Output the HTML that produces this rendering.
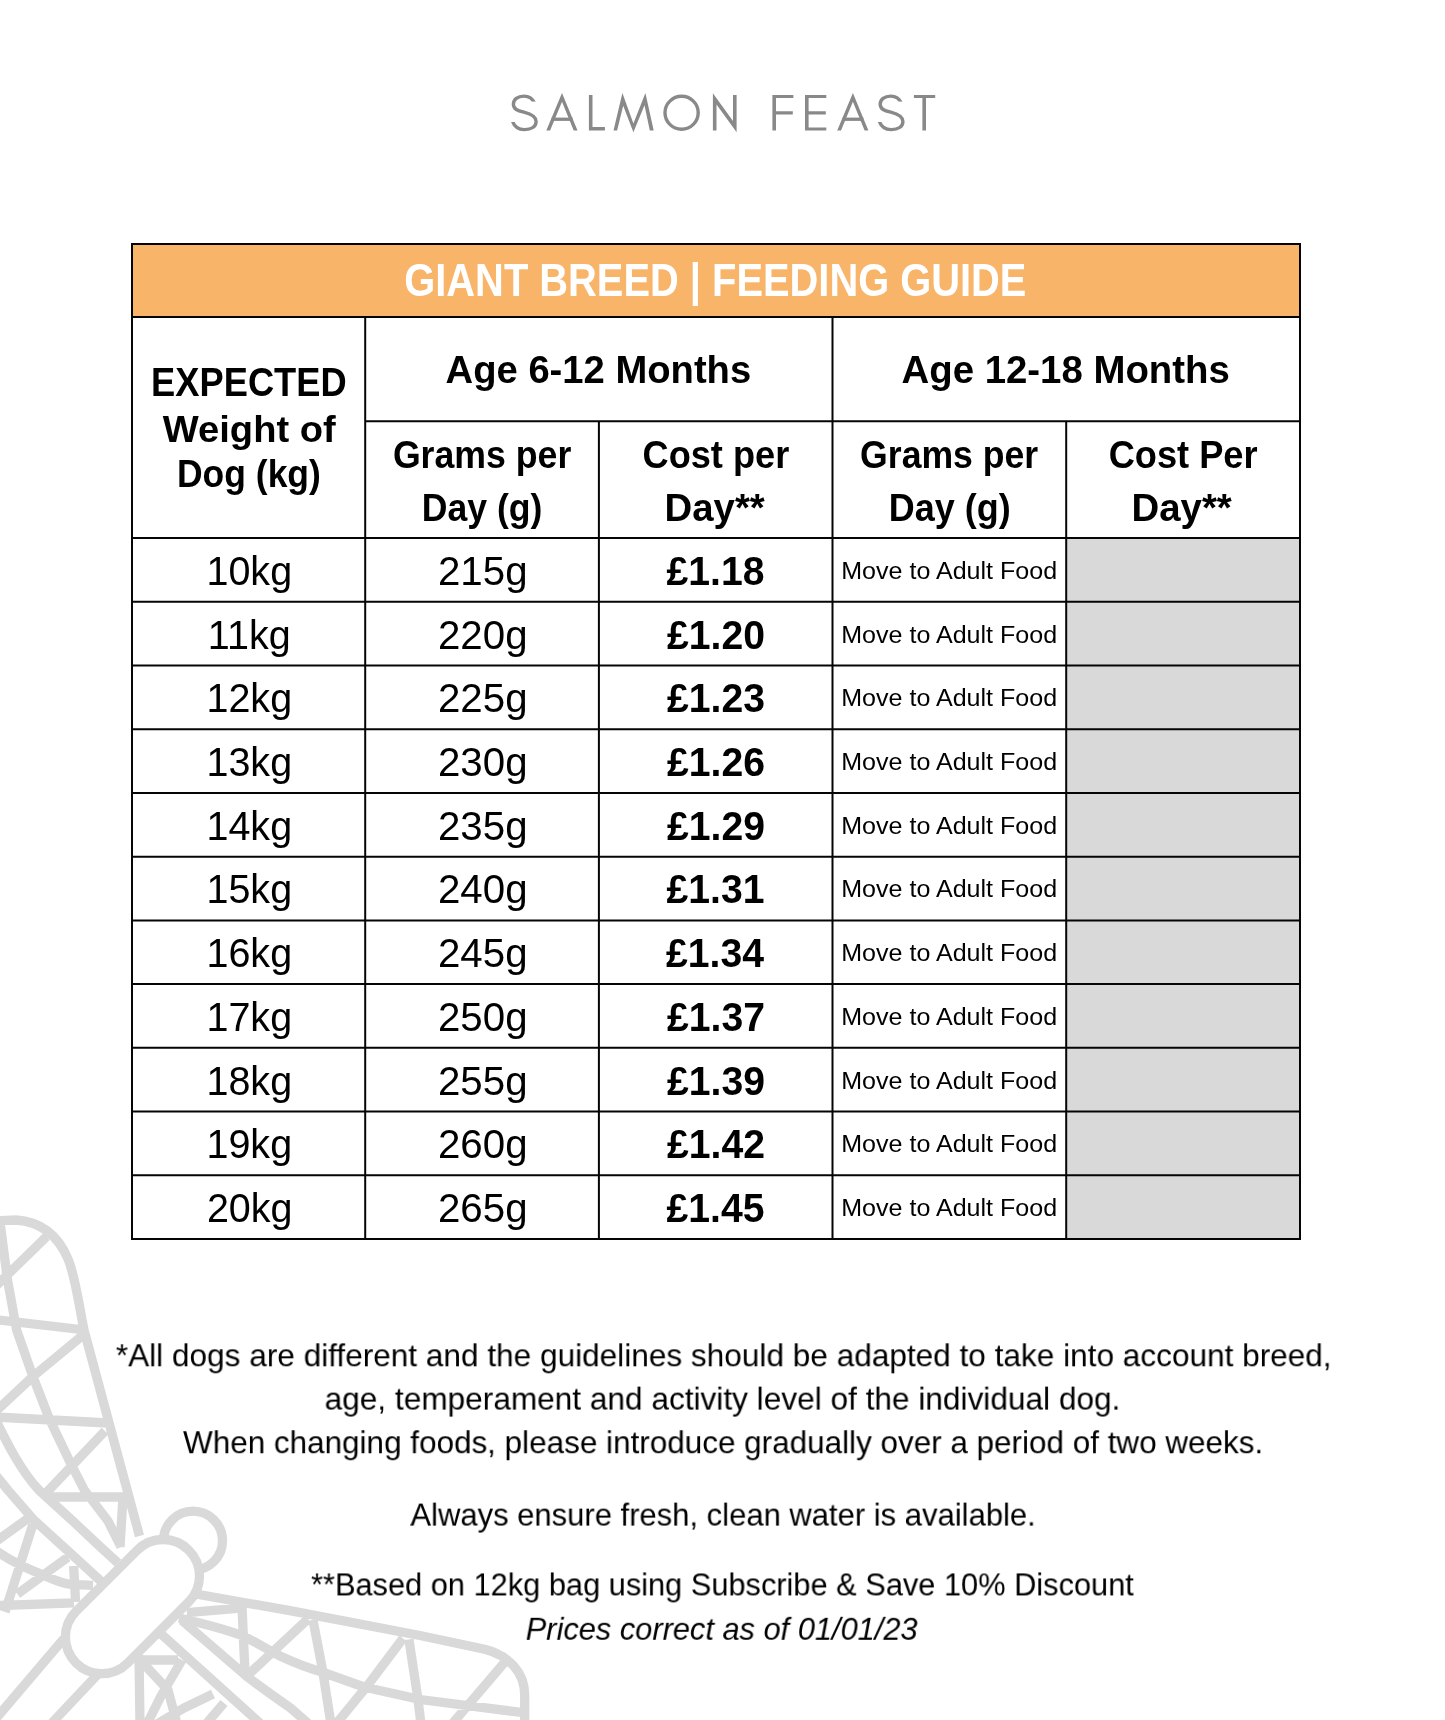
<!DOCTYPE html>
<html><head><meta charset="utf-8"><title>Salmon Feast - Giant Breed Feeding Guide</title>
<style>
html,body{margin:0;padding:0;background:#fff;}
body{width:1445px;height:1720px;overflow:hidden;position:relative;font-family:"Liberation Sans", sans-serif;}
svg{position:absolute;left:0;top:0;display:block;will-change:transform;}
svg text{font-family:"Liberation Sans", sans-serif;}
</style></head><body>
<svg width="1445" height="1720" viewBox="0 0 1445 1720">
<g id="dragonfly"><path d="M139.5,1536 L84,1330 C79,1305 75,1275 68,1259 C60,1240 45,1222 16,1220 L-30,1222 M-8,1412 C8,1446 22,1472 38.8,1490 L71.7,1520 L103.7,1550 L118,1563 M0,1222 L7.5,1280 L16.6,1330 L32.9,1376.5 L49.4,1419 L70,1462 L84.3,1490 L108,1521 L121,1547 M46.5,1236.6 L-5,1287 M-5,1319.6 L85,1330 M83.3,1334.8 L32.9,1376.5 L-5,1412 M-5,1417 L108,1423 M105,1431 L47,1492 M44,1497 L130,1497 M123,1497 L120,1547 M-10,1468 L7.8,1490 L33.9,1520 L66.9,1550 L104,1584 M-5,1542 L30,1517 M-5,1550 C10,1561 30,1570 44.6,1575.6 C55,1580 62,1584 71.7,1584.3 L93,1585.3 M32.9,1524.3 L5,1612 M67.8,1557.2 L17.4,1594 M-5,1605.7 L74,1602.8 M73.6,1566 L75.6,1602 M64,1638.5 L-4,1718.5 M99,1673 L50,1725 M139,1655 L140,1725 M139,1660 L178,1660 M142,1662 L168,1690 L177,1724 M182,1660 L161,1696 L147,1724 M213,1694 L184,1708 L157,1724 M224,1703 L206,1724 M150,1624 L262,1725 M182,1620.4 L246.9,1676.6 C262,1688 276,1698 290,1707.6 L310,1725 M196,1594 L290,1610.7 L420,1635.5 L484.6,1649.2 C508,1655 524.7,1672 524.7,1695 L524.7,1725 M186.8,1612.6 L243,1607.8 M179,1618 C205,1624 225,1629 243,1636 C256,1642 268,1650 280,1656 C295,1663 308,1668 322,1672 L364,1687 L420,1699.5 L526,1713 M242,1606.8 L245,1672.7 M308,1619 L249,1674 M313,1620 L322.6,1670.4 L331,1724 M403,1638.4 L367.2,1686 L336,1724 M408.9,1639.4 L417.6,1696.6 L421,1724 M504,1663 L452,1724" stroke="#D9D9D9" stroke-width="9.3" fill="none" stroke-linejoin="round" stroke-linecap="butt"/><circle cx="193" cy="1540.7" r="29.5" stroke="#D9D9D9" stroke-width="9.3" fill="#fff"/><rect x="52.74" y="1570.05" width="159.42" height="73.00" rx="36.5" ry="36.5" transform="rotate(-45 132.45 1606.55)" stroke="#D9D9D9" stroke-width="9.3" fill="#fff"/></g>
<g id="title"><path d="M534.60 103.20 C532.60 98.60 528.80 96.10 524.00 96.10 C517.50 96.10 513.40 99.60 513.40 104.20 C513.40 109.20 517.60 110.60 523.90 112.20 C531.60 114.20 536.10 116.60 536.10 121.50 C536.10 126.60 531.50 129.60 524.50 129.60 C519.50 129.60 514.60 127.60 512.40 121.00" stroke="#898989" stroke-width="3.4" fill="none"/><rect x="528.60" y="101.6" width="12" height="6" fill="#fff"/><rect x="506.00" y="115.5" width="12.6" height="6.5" fill="#fff"/><polygon points="546.30,130.60 562.00,93.00 577.50,130.60 573.70,130.60 562.00,101.80 550.10,130.60" fill="#898989"/><rect x="551.50" y="117.60" width="21.00" height="3.30" fill="#898989"/><polygon points="588.90,94.90 592.50,94.90 592.50,127.00 604.90,127.00 604.90,130.60 588.90,130.60" fill="#898989"/><polygon points="613.50,130.60 622.40,93.00 633.40,123.40 645.40,93.00 653.70,130.60 649.80,130.60 644.50,105.20 633.40,132.30 623.20,105.70 617.10,130.60" fill="#898989"/><ellipse cx="681.6" cy="112.75" rx="16.6" ry="16.45" stroke="#898989" stroke-width="3.4" fill="none"/><polygon points="712.90,130.60 712.90,93.30 733.00,121.00 733.00,94.90 736.60,94.90 736.60,132.30 716.50,104.60 716.50,130.60" fill="#898989"/><polygon points="772.40,94.90 793.40,94.90 793.40,98.00 776.00,98.00 776.00,111.30 792.80,111.30 792.80,114.40 776.00,114.40 776.00,130.60 772.40,130.60" fill="#898989"/><polygon points="805.00,94.90 826.30,94.90 826.30,98.00 808.60,98.00 808.60,111.30 825.80,111.30 825.80,114.40 808.60,114.40 808.60,127.50 826.30,127.50 826.30,130.60 805.00,130.60" fill="#898989"/><polygon points="837.20,130.60 852.90,93.00 868.40,130.60 864.60,130.60 852.90,101.80 841.00,130.60" fill="#898989"/><rect x="842.40" y="117.60" width="21.00" height="3.30" fill="#898989"/><path d="M901.40 103.20 C899.40 98.60 895.60 96.10 890.80 96.10 C884.30 96.10 880.20 99.60 880.20 104.20 C880.20 109.20 884.40 110.60 890.70 112.20 C898.40 114.20 902.90 116.60 902.90 121.50 C902.90 126.60 898.30 129.60 891.30 129.60 C886.30 129.60 881.40 127.60 879.20 121.00" stroke="#898989" stroke-width="3.4" fill="none"/><rect x="895.40" y="101.6" width="12" height="6" fill="#fff"/><rect x="872.80" y="115.5" width="12.6" height="6.5" fill="#fff"/><polygon points="913.90,94.90 935.20,94.90 935.20,98.00 926.00,98.00 926.00,130.60 922.40,130.60 922.40,98.00 913.90,98.00" fill="#898989"/></g>
<g id="table"><rect x="132.0" y="244.0" width="1168.0" height="73.0" fill="#F8B469"/><rect x="1066.2" y="538.00" width="233.80" height="63.73" fill="#D9D9D9"/><rect x="1066.2" y="601.73" width="233.80" height="63.73" fill="#D9D9D9"/><rect x="1066.2" y="665.46" width="233.80" height="63.73" fill="#D9D9D9"/><rect x="1066.2" y="729.19" width="233.80" height="63.73" fill="#D9D9D9"/><rect x="1066.2" y="792.92" width="233.80" height="63.73" fill="#D9D9D9"/><rect x="1066.2" y="856.65" width="233.80" height="63.73" fill="#D9D9D9"/><rect x="1066.2" y="920.38" width="233.80" height="63.73" fill="#D9D9D9"/><rect x="1066.2" y="984.11" width="233.80" height="63.73" fill="#D9D9D9"/><rect x="1066.2" y="1047.84" width="233.80" height="63.73" fill="#D9D9D9"/><rect x="1066.2" y="1111.57" width="233.80" height="63.73" fill="#D9D9D9"/><rect x="1066.2" y="1175.30" width="233.80" height="63.73" fill="#D9D9D9"/><path d="M131.00 244.00H1301.00 M131.00 1239.00H1301.00 M132.00 243.00V1240.00 M1300.00 243.00V1240.00 M131.00 317.00H1301.00 M364.20 421.30H1301.00 M131.00 538.00H1301.00 M131.00 601.73H1301.00 M131.00 665.46H1301.00 M131.00 729.19H1301.00 M131.00 792.92H1301.00 M131.00 856.65H1301.00 M131.00 920.38H1301.00 M131.00 984.11H1301.00 M131.00 1047.84H1301.00 M131.00 1111.57H1301.00 M131.00 1175.30H1301.00 M365.20 316.00V1240.00 M832.50 316.00V1240.00 M598.90 420.30V1240.00 M1066.20 420.30V1240.00" stroke="#050505" stroke-width="2.0" fill="none" shape-rendering="geometricPrecision"/></g>
<g id="texts"><text transform="translate(404.28 296.00) scale(0.8624 1)" x="0" y="0" font-size="46.221" font-weight="bold" font-style="normal" fill="#ffffff">GIANT BREED | FEEDING GUIDE</text><text transform="translate(151.08 396.00) scale(0.9114 1)" x="0" y="0" font-size="39.826" font-weight="bold" font-style="normal" fill="#000">EXPECTED</text><text transform="translate(162.80 441.70) scale(1.0165 1)" x="0" y="0" font-size="37.500" font-weight="bold" font-style="normal" fill="#000">Weight of</text><text transform="translate(176.93 487.00) scale(0.9331 1)" x="0" y="0" font-size="38.056" font-weight="bold" font-style="normal" fill="#000">Dog (kg)</text><text transform="translate(445.62 383.10) scale(0.9787 1)" x="0" y="0" font-size="39.028" font-weight="bold" font-style="normal" fill="#000">Age 6-12 Months</text><text transform="translate(901.51 383.10) scale(0.9942 1)" x="0" y="0" font-size="38.611" font-weight="bold" font-style="normal" fill="#000">Age 12-18 Months</text><text transform="translate(392.88 467.80) scale(0.9207 1)" x="0" y="0" font-size="38.750" font-weight="bold" font-style="normal" fill="#000">Grams per</text><text transform="translate(421.74 520.80) scale(0.9291 1)" x="0" y="0" font-size="38.333" font-weight="bold" font-style="normal" fill="#000">Day (g)</text><text transform="translate(642.56 467.60) scale(0.9435 1)" x="0" y="0" font-size="38.333" font-weight="bold" font-style="normal" fill="#000">Cost per</text><text transform="translate(664.50 521.20) scale(0.9980 1)" x="0" y="0" font-size="38.472" font-weight="bold" font-style="normal" fill="#000">Day**</text><text transform="translate(860.08 467.80) scale(0.9192 1)" x="0" y="0" font-size="38.750" font-weight="bold" font-style="normal" fill="#000">Grams per</text><text transform="translate(888.82 520.80) scale(0.9386 1)" x="0" y="0" font-size="38.333" font-weight="bold" font-style="normal" fill="#000">Day (g)</text><text transform="translate(1108.66 467.60) scale(0.9449 1)" x="0" y="0" font-size="38.333" font-weight="bold" font-style="normal" fill="#000">Cost Per</text><text transform="translate(1131.40 521.20) scale(0.9990 1)" x="0" y="0" font-size="38.472" font-weight="bold" font-style="normal" fill="#000">Day**</text><text transform="translate(115.80 1366.30) scale(0.9889 1)" x="0" y="0" font-size="31.944" font-weight="normal" font-style="normal" fill="#000">*All dogs are different and the guidelines should be adapted to take into account breed,</text><text transform="translate(324.61 1409.60) scale(0.9896 1)" x="0" y="0" font-size="31.944" font-weight="normal" font-style="normal" fill="#000">age, temperament and activity level of the individual dog.</text><text transform="translate(183.00 1453.20) scale(0.9848 1)" x="0" y="0" font-size="31.944" font-weight="normal" font-style="normal" fill="#000">When changing foods, please introduce gradually over a period of two weeks.</text><text transform="translate(410.40 1525.60) scale(0.9704 1)" x="0" y="0" font-size="31.944" font-weight="normal" font-style="normal" fill="#000">Always ensure fresh, clean water is available.</text><text transform="translate(311.00 1595.40) scale(0.9719 1)" x="0" y="0" font-size="31.667" font-weight="normal" font-style="normal" fill="#000">**Based on 12kg bag using Subscribe &amp; Save 10% Discount</text><text transform="translate(525.73 1639.80) scale(0.9726 1)" x="0" y="0" font-size="31.667" font-weight="normal" font-style="italic" fill="#000">Prices correct as of 01/01/23</text><text transform="translate(206.42 584.80) scale(0.9607 1)" x="0" y="0" font-size="41.134" font-weight="normal" font-style="normal" fill="#000">10kg</text><text transform="translate(207.86 648.53) scale(0.9607 1)" x="0" y="0" font-size="41.134" font-weight="normal" font-style="normal" fill="#000">11kg</text><text transform="translate(206.42 712.26) scale(0.9607 1)" x="0" y="0" font-size="41.134" font-weight="normal" font-style="normal" fill="#000">12kg</text><text transform="translate(206.42 775.99) scale(0.9607 1)" x="0" y="0" font-size="41.134" font-weight="normal" font-style="normal" fill="#000">13kg</text><text transform="translate(206.42 839.72) scale(0.9607 1)" x="0" y="0" font-size="41.134" font-weight="normal" font-style="normal" fill="#000">14kg</text><text transform="translate(206.42 903.45) scale(0.9607 1)" x="0" y="0" font-size="41.134" font-weight="normal" font-style="normal" fill="#000">15kg</text><text transform="translate(206.42 967.18) scale(0.9607 1)" x="0" y="0" font-size="41.134" font-weight="normal" font-style="normal" fill="#000">16kg</text><text transform="translate(206.42 1030.91) scale(0.9607 1)" x="0" y="0" font-size="41.134" font-weight="normal" font-style="normal" fill="#000">17kg</text><text transform="translate(206.42 1094.64) scale(0.9607 1)" x="0" y="0" font-size="41.134" font-weight="normal" font-style="normal" fill="#000">18kg</text><text transform="translate(206.42 1158.37) scale(0.9607 1)" x="0" y="0" font-size="41.134" font-weight="normal" font-style="normal" fill="#000">19kg</text><text transform="translate(206.90 1222.10) scale(0.9607 1)" x="0" y="0" font-size="41.134" font-weight="normal" font-style="normal" fill="#000">20kg</text><text transform="translate(437.94 584.80) scale(0.9793 1)" x="0" y="0" font-size="41.134" font-weight="normal" font-style="normal" fill="#000">215g</text><text transform="translate(437.94 648.53) scale(0.9793 1)" x="0" y="0" font-size="41.134" font-weight="normal" font-style="normal" fill="#000">220g</text><text transform="translate(437.94 712.26) scale(0.9793 1)" x="0" y="0" font-size="41.134" font-weight="normal" font-style="normal" fill="#000">225g</text><text transform="translate(437.94 775.99) scale(0.9793 1)" x="0" y="0" font-size="41.134" font-weight="normal" font-style="normal" fill="#000">230g</text><text transform="translate(437.94 839.72) scale(0.9793 1)" x="0" y="0" font-size="41.134" font-weight="normal" font-style="normal" fill="#000">235g</text><text transform="translate(437.94 903.45) scale(0.9793 1)" x="0" y="0" font-size="41.134" font-weight="normal" font-style="normal" fill="#000">240g</text><text transform="translate(437.94 967.18) scale(0.9793 1)" x="0" y="0" font-size="41.134" font-weight="normal" font-style="normal" fill="#000">245g</text><text transform="translate(437.94 1030.91) scale(0.9793 1)" x="0" y="0" font-size="41.134" font-weight="normal" font-style="normal" fill="#000">250g</text><text transform="translate(437.94 1094.64) scale(0.9793 1)" x="0" y="0" font-size="41.134" font-weight="normal" font-style="normal" fill="#000">255g</text><text transform="translate(437.94 1158.37) scale(0.9793 1)" x="0" y="0" font-size="41.134" font-weight="normal" font-style="normal" fill="#000">260g</text><text transform="translate(437.94 1222.10) scale(0.9793 1)" x="0" y="0" font-size="41.134" font-weight="normal" font-style="normal" fill="#000">265g</text><text transform="translate(666.50 584.80) scale(0.9456 1)" x="0" y="0" font-size="41.424" font-weight="bold" font-style="normal" fill="#000">£1.18</text><text transform="translate(666.97 648.53) scale(0.9456 1)" x="0" y="0" font-size="41.424" font-weight="bold" font-style="normal" fill="#000">£1.20</text><text transform="translate(666.97 712.26) scale(0.9456 1)" x="0" y="0" font-size="41.424" font-weight="bold" font-style="normal" fill="#000">£1.23</text><text transform="translate(666.97 775.99) scale(0.9456 1)" x="0" y="0" font-size="41.424" font-weight="bold" font-style="normal" fill="#000">£1.26</text><text transform="translate(666.97 839.72) scale(0.9456 1)" x="0" y="0" font-size="41.424" font-weight="bold" font-style="normal" fill="#000">£1.29</text><text transform="translate(666.50 903.45) scale(0.9456 1)" x="0" y="0" font-size="41.424" font-weight="bold" font-style="normal" fill="#000">£1.31</text><text transform="translate(666.03 967.18) scale(0.9456 1)" x="0" y="0" font-size="41.424" font-weight="bold" font-style="normal" fill="#000">£1.34</text><text transform="translate(666.97 1030.91) scale(0.9456 1)" x="0" y="0" font-size="41.424" font-weight="bold" font-style="normal" fill="#000">£1.37</text><text transform="translate(666.97 1094.64) scale(0.9456 1)" x="0" y="0" font-size="41.424" font-weight="bold" font-style="normal" fill="#000">£1.39</text><text transform="translate(666.97 1158.37) scale(0.9456 1)" x="0" y="0" font-size="41.424" font-weight="bold" font-style="normal" fill="#000">£1.42</text><text transform="translate(666.50 1222.10) scale(0.9456 1)" x="0" y="0" font-size="41.424" font-weight="bold" font-style="normal" fill="#000">£1.45</text><text transform="translate(841.21 578.80) scale(1.0436 1)" x="0" y="0" font-size="24.028" font-weight="normal" font-style="normal" fill="#000">Move to Adult Food</text><text transform="translate(841.21 642.53) scale(1.0436 1)" x="0" y="0" font-size="24.028" font-weight="normal" font-style="normal" fill="#000">Move to Adult Food</text><text transform="translate(841.21 706.26) scale(1.0436 1)" x="0" y="0" font-size="24.028" font-weight="normal" font-style="normal" fill="#000">Move to Adult Food</text><text transform="translate(841.21 769.99) scale(1.0436 1)" x="0" y="0" font-size="24.028" font-weight="normal" font-style="normal" fill="#000">Move to Adult Food</text><text transform="translate(841.21 833.72) scale(1.0436 1)" x="0" y="0" font-size="24.028" font-weight="normal" font-style="normal" fill="#000">Move to Adult Food</text><text transform="translate(841.21 897.45) scale(1.0436 1)" x="0" y="0" font-size="24.028" font-weight="normal" font-style="normal" fill="#000">Move to Adult Food</text><text transform="translate(841.21 961.18) scale(1.0436 1)" x="0" y="0" font-size="24.028" font-weight="normal" font-style="normal" fill="#000">Move to Adult Food</text><text transform="translate(841.21 1024.91) scale(1.0436 1)" x="0" y="0" font-size="24.028" font-weight="normal" font-style="normal" fill="#000">Move to Adult Food</text><text transform="translate(841.21 1088.64) scale(1.0436 1)" x="0" y="0" font-size="24.028" font-weight="normal" font-style="normal" fill="#000">Move to Adult Food</text><text transform="translate(841.21 1152.37) scale(1.0436 1)" x="0" y="0" font-size="24.028" font-weight="normal" font-style="normal" fill="#000">Move to Adult Food</text><text transform="translate(841.21 1216.10) scale(1.0436 1)" x="0" y="0" font-size="24.028" font-weight="normal" font-style="normal" fill="#000">Move to Adult Food</text></g>
</svg>
</body></html>
